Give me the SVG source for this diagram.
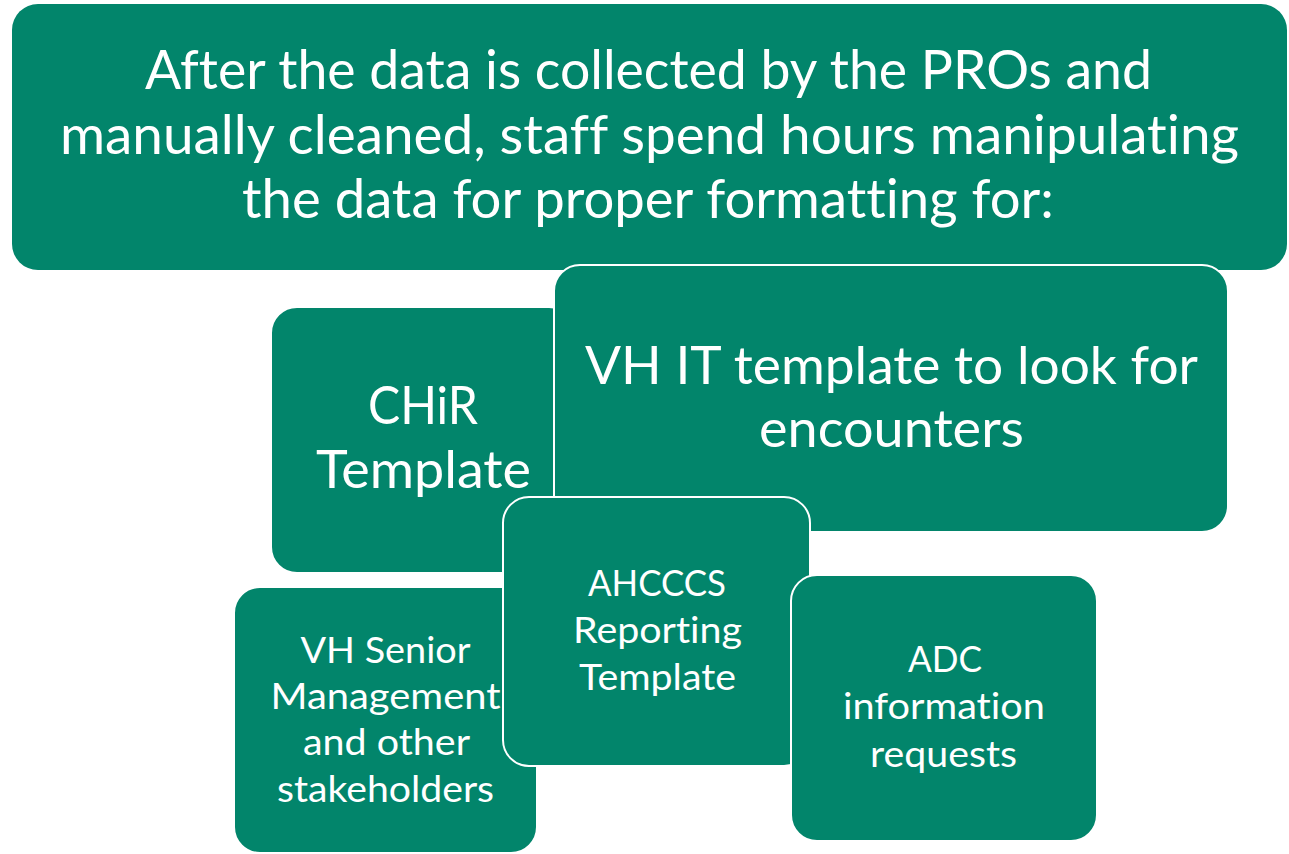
<svg xmlns="http://www.w3.org/2000/svg" width="1289" height="854" viewBox="0 0 1289 854">
<style>
.box{fill:#02856B;stroke:#ffffff;stroke-width:2}
.hdr{fill:#02856B;stroke:none}
text{fill:#ffffff;font-family:Lato,"Open Sans","Liberation Sans",sans-serif;text-anchor:middle;font-variant-ligatures:none;font-feature-settings:"liga" 0,"clig" 0}
.t55{font-size:54px}
.t53{font-size:52px}
.t38{font-size:37px}
</style>
<rect width="1289" height="854" fill="#ffffff"/>
<g id="header">
<rect class="hdr" x="12" y="4" width="1275" height="266" rx="26" ry="26"/>
<text class="t55" x="648.5" y="89" textLength="1007" lengthAdjust="spacingAndGlyphs">After the data is collected by the PROs and</text>
<text class="t55" x="649.5" y="154" textLength="1179" lengthAdjust="spacingAndGlyphs">manually cleaned, staff spend hours manipulating</text>
<text class="t55" x="648" y="218" textLength="812" lengthAdjust="spacingAndGlyphs">the data for proper formatting for:</text>
</g>
<g id="chir">
<rect class="box" x="271" y="307" width="304" height="266" rx="26" ry="26"/>
<text class="t53" x="423" y="424" textLength="110" lengthAdjust="spacingAndGlyphs">CHiR</text>
<text class="t53" x="423.5" y="488" textLength="215" lengthAdjust="spacingAndGlyphs">Template</text>
</g>
<g id="vhit">
<rect class="box" x="554" y="265" width="674" height="267" rx="26" ry="26"/>
<text class="t53" x="891.5" y="384" textLength="613" lengthAdjust="spacingAndGlyphs">VH IT template to look for</text>
<text class="t53" x="891.5" y="447" textLength="265" lengthAdjust="spacingAndGlyphs">encounters</text>
</g>
<g id="vhsenior">
<rect class="box" x="234" y="587" width="303" height="266" rx="26" ry="26"/>
<text class="t38" x="385.5" y="663" textLength="170" lengthAdjust="spacingAndGlyphs">VH Senior</text>
<text class="t38" x="385.5" y="709" textLength="230" lengthAdjust="spacingAndGlyphs">Management</text>
<text class="t38" x="386.5" y="755" textLength="167" lengthAdjust="spacingAndGlyphs">and other</text>
<text class="t38" x="385.5" y="802" textLength="217" lengthAdjust="spacingAndGlyphs">stakeholders</text>
</g>
<g id="ahcccs">
<rect class="box" x="503" y="497" width="307" height="269" rx="26" ry="26"/>
<text class="t38" x="657" y="596" textLength="138" lengthAdjust="spacingAndGlyphs">AHCCCS</text>
<text class="t38" x="657.5" y="643" textLength="169" lengthAdjust="spacingAndGlyphs">Reporting</text>
<text class="t38" x="657.5" y="690" textLength="157" lengthAdjust="spacingAndGlyphs">Template</text>
</g>
<g id="adc">
<rect class="box" x="791" y="575" width="306" height="266" rx="26" ry="26"/>
<text class="t38" x="945" y="672" textLength="74" lengthAdjust="spacingAndGlyphs">ADC</text>
<text class="t38" x="944" y="719" textLength="202" lengthAdjust="spacingAndGlyphs">information</text>
<text class="t38" x="943.5" y="767" textLength="147" lengthAdjust="spacingAndGlyphs">requests</text>
</g>
<g id="connectors"></g>
</svg>
